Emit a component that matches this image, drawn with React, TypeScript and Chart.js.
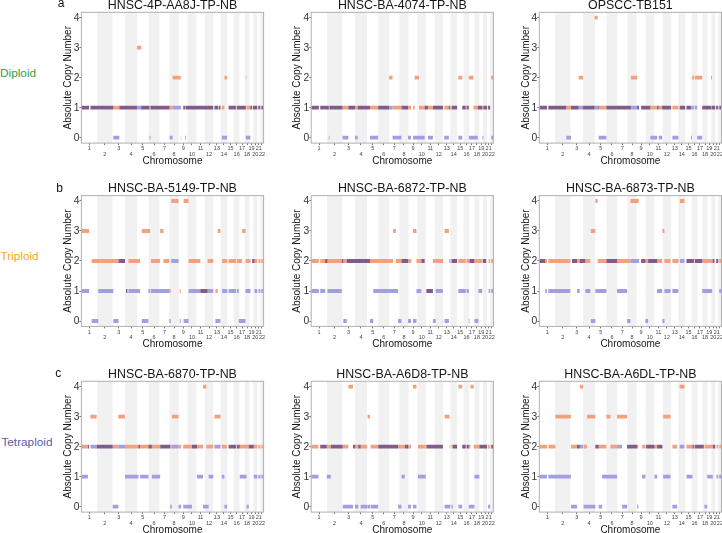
import React, { useEffect, useRef } from "react";
import { Chart, registerables } from "chart.js";

Chart.register(...registerables);

const FONT = "'Liberation Sans', Arial, Helvetica, sans-serif";

// ---------------- data ----------------
const CHROMOSOMES = ["1","2","3","4","5","6","7","8","9","10","11","12","13","14","15","16","17","18","19","20","21","22"];
const CHROM_LENGTHS_MB = [249.25, 243.2, 198.02, 191.15, 180.92, 171.12, 159.14, 146.36, 141.21, 135.53, 135.01, 133.85, 115.17, 107.35, 102.53, 90.35, 81.2, 78.08, 59.13, 63.03, 48.13, 51.3];
// genome regions without data (centromeres / acrocentric p-arms), Mb
const NO_DATA_MB: [number, number][] = [[121, 143], [1578, 1610], [2444, 2457], [2085, 2104], [2200, 2219], [2307, 2327], [2782, 2797], [2830, 2846]];
const COPY_TICKS = [0, 1, 2, 3, 4];
const PANEL_TITLES = [
  "HNSC-4P-AA8J-TP-NB", "HNSC-BA-4074-TP-NB", "OPSCC-TB151",
  "HNSC-BA-5149-TP-NB", "HNSC-BA-6872-TP-NB", "HNSC-BA-6873-TP-NB",
  "HNSC-BA-6870-TP-NB", "HNSC-BA-A6D8-TP-NB", "HNSC-BA-A6DL-TP-NB",
];
const ROW_LABELS = ["Diploid", "Triploid", "Tetraploid"];
const PANEL_LETTERS = ["a", "b", "c"];

// segments: [start Mb, end Mb, major copy number, minor copy number]
type Seg = [number, number, number, number];

const SEG_AA8J: Seg[] = [
  [0, 505, 1, 1], [505, 600, 1, 0], [600, 878, 1, 1], [878, 945, 3, 1], [945, 1075, 1, 1],
  [1075, 1092, 1, 0], [1092, 1395, 1, 1], [1395, 1442, 1, 0], [1442, 1572, 2, 1], [1572, 1580, 1, 0],
  [1580, 1638, 1, 1], [1638, 1652, 1, 0], [1652, 2165, 1, 1], [2165, 2175, 1, 0], [2175, 2222, 1, 1],
  [2222, 2262, 1, 0], [2262, 2305, 2, 0], [2305, 2322, 1, 0], [2322, 2600, 1, 1], [2600, 2610, 2, 0],
  [2610, 2672, 1, 0], [2672, 2700, 1, 1], [2700, 2712, 2, 1], [2712, 2881, 1, 1],
];
const SEG_4074: Seg[] = [
  [0, 278, 1, 1], [278, 290, 1, 0], [290, 496, 1, 1], [496, 587, 1, 0], [587, 693, 1, 1], [693, 735, 1, 0],
  [735, 929, 1, 1], [929, 1059, 1, 0], [1059, 1232, 1, 1], [1232, 1286, 2, 1], [1286, 1428, 1, 0],
  [1428, 1531, 1, 1], [1531, 1637, 1, 0], [1637, 1705, 2, 0], [1705, 1794, 1, 0], [1794, 1846, 1, 1],
  [1846, 1925, 1, 0], [1925, 2093, 1, 1], [2093, 2177, 1, 0], [2177, 2318, 1, 1], [2318, 2388, 2, 0],
  [2388, 2492, 1, 1], [2492, 2566, 2, 0], [2566, 2633, 1, 0], [2633, 2707, 1, 1], [2707, 2723, 1, 0],
  [2723, 2841, 1, 1], [2841, 2881, 2, 0],
];
const SEG_TB151: Seg[] = [
  [0, 427, 1, 1], [427, 502, 1, 0], [502, 622, 1, 1], [622, 692, 2, 1], [692, 875, 1, 1], [875, 923, 4, 1],
  [923, 939, 1, 1], [939, 1061, 1, 0], [1061, 1448, 1, 1], [1448, 1547, 2, 1], [1547, 1757, 1, 1],
  [1757, 1863, 1, 0], [1863, 1889, 1, 1], [1889, 1942, 1, 0], [1942, 2101, 1, 1], [2101, 2205, 1, 0],
  [2205, 2398, 1, 1], [2398, 2414, 1, 0], [2414, 2496, 2, 1], [2496, 2576, 2, 0], [2576, 2715, 1, 1],
  [2715, 2731, 2, 1], [2731, 2881, 1, 1],
];
const SEG_5149: Seg[] = [
  [0, 135, 3, 1], [162, 267, 2, 0], [267, 505, 2, 1], [505, 587, 2, 0], [587, 690, 2, 2], [706, 727, 1, 1],
  [743, 928, 2, 1], [955, 1060, 3, 0], [1060, 1087, 3, 1], [1098, 1246, 2, 1], [1246, 1298, 3, 1],
  [1298, 1389, 2, 1], [1389, 1412, 1, 0], [1420, 1536, 4, 2], [1555, 1571, 1, 0], [1616, 1695, 4, 0],
  [1695, 1881, 2, 1], [1881, 1996, 1, 1], [1996, 2092, 2, 1], [2119, 2155, 1, 0], [2155, 2198, 3, 0],
  [2225, 2488, 2, 1], [2488, 2542, 2, 0], [2542, 2595, 3, 0], [2595, 2674, 2, 1], [2701, 2738, 2, 2],
  [2738, 2780, 2, 1], [2801, 2881, 2, 1],
];
const SEG_6872: Seg[] = [
  [0, 220, 2, 1], [220, 257, 2, 2], [257, 483, 2, 1], [483, 508, 2, 2], [508, 562, 2, 0], [562, 929, 2, 2],
  [929, 981, 2, 0], [981, 1295, 2, 1], [1295, 1338, 3, 1], [1338, 1374, 2, 1], [1374, 1428, 2, 0],
  [1428, 1532, 2, 2], [1532, 1601, 2, 0], [1601, 1664, 3, 0], [1664, 1742, 2, 1], [1742, 1794, 2, 2],
  [1821, 1925, 1, 1], [1925, 1968, 2, 0], [1968, 2082, 2, 1], [2082, 2109, 2, 0], [2109, 2177, 3, 0],
  [2188, 2318, 2, 2], [2318, 2492, 2, 1], [2492, 2503, 2, 0], [2503, 2581, 2, 2], [2581, 2644, 2, 0],
  [2644, 2703, 2, 1], [2712, 2766, 2, 2], [2781, 2806, 2, 2], [2806, 2881, 2, 1],
];
const SEG_6873: Seg[] = [
  [0, 95, 2, 2], [95, 491, 2, 1], [518, 597, 2, 2], [597, 638, 2, 1], [638, 728, 2, 2], [728, 807, 2, 1],
  [815, 886, 3, 0], [886, 923, 4, 1], [923, 1061, 2, 1], [1061, 1230, 2, 2], [1230, 1388, 2, 1],
  [1388, 1441, 2, 0], [1441, 1572, 4, 2], [1572, 1678, 2, 2], [1678, 1721, 2, 0], [1721, 1863, 2, 2],
  [1863, 1942, 2, 1], [1947, 1979, 3, 0], [1979, 2074, 2, 1], [2101, 2205, 2, 1], [2221, 2295, 4, 2],
  [2327, 2576, 2, 2], [2576, 2734, 2, 1], [2739, 2770, 2, 2], [2786, 2834, 2, 2], [2838, 2881, 2, 1],
];
const SEG_6870: Seg[] = [
  [0, 103, 2, 1], [103, 135, 2, 2], [135, 241, 3, 2], [241, 495, 2, 2], [495, 584, 2, 0], [584, 690, 3, 2],
  [690, 901, 2, 1], [901, 928, 2, 2], [928, 1060, 2, 1], [1060, 1114, 2, 2], [1114, 1246, 2, 1],
  [1246, 1404, 2, 2], [1404, 1431, 2, 0], [1431, 1536, 3, 2], [1536, 1749, 2, 0], [1749, 1828, 2, 2],
  [1828, 1923, 2, 1], [1923, 1976, 4, 0], [1976, 2012, 2, 0], [2012, 2087, 2, 1], [2087, 2209, 3, 2],
  [2209, 2261, 2, 1], [2261, 2304, 2, 0], [2304, 2504, 2, 2], [2504, 2611, 2, 1], [2611, 2647, 2, 0],
  [2647, 2726, 2, 2], [2726, 2881, 2, 1],
];
const SEG_A6D8: Seg[] = [
  [0, 115, 2, 1], [115, 247, 2, 2], [247, 310, 2, 1], [310, 499, 2, 2], [499, 587, 2, 0], [587, 661, 4, 0],
  [661, 693, 2, 2], [693, 745, 2, 0], [745, 782, 2, 2], [782, 886, 2, 0], [892, 929, 3, 0], [940, 1059, 2, 0],
  [1059, 1374, 2, 2], [1374, 1428, 2, 0], [1428, 1480, 2, 1], [1480, 1532, 2, 2], [1532, 1601, 2, 0],
  [1601, 1664, 4, 0], [1689, 1810, 2, 1], [1821, 2082, 2, 2], [2082, 2109, 4, 0], [2109, 2188, 3, 0],
  [2188, 2240, 2, 0], [2240, 2318, 2, 2], [2318, 2388, 4, 0], [2388, 2492, 2, 2], [2492, 2518, 2, 0],
  [2518, 2570, 4, 0], [2570, 2581, 2, 0], [2581, 2660, 2, 1], [2660, 2791, 2, 2], [2791, 2844, 2, 0],
  [2844, 2881, 2, 2],
];
const SEG_A6DL: Seg[] = [
  [0, 253, 2, 1], [253, 499, 3, 1], [502, 597, 2, 0], [597, 641, 2, 2], [641, 692, 4, 2], [701, 755, 2, 0],
  [755, 886, 3, 0], [886, 939, 2, 2], [939, 993, 2, 0], [993, 1061, 2, 1], [1061, 1124, 3, 1],
  [1124, 1230, 2, 1], [1230, 1309, 3, 2], [1309, 1388, 3, 0], [1388, 1547, 2, 2], [1547, 1567, 2, 0],
  [1626, 1678, 2, 1], [1689, 1821, 2, 2], [1821, 1863, 2, 1], [1863, 1947, 2, 2], [1958, 2074, 3, 1],
  [2101, 2180, 2, 0], [2205, 2295, 4, 2], [2327, 2422, 2, 1], [2422, 2601, 2, 2], [2612, 2655, 2, 0],
  [2655, 2743, 2, 1], [2743, 2802, 2, 2], [2802, 2881, 2, 1],
];
const PANEL_SEGMENTS = [SEG_AA8J, SEG_4074, SEG_TB151, SEG_5149, SEG_6872, SEG_6873, SEG_6870, SEG_A6D8, SEG_A6DL];

// ---------------- styles / layout ----------------
const ORANGE = "#F3A07C";
const BLUE = "#A29EE4";
const PURPLE = "#7F5C89";
const BAND = "#F1F1F1";
const FRAME = "#B0B0B0";
const ROW_COLORS = ["#2EA04A", "#F2A71E", "#5A5DA8"];

const PLOT_LEFT = [81.4, 311.2, 539.3];
const PLOT_TOP = [12.3, 195.6, 381.3];
const PLOT_W = 182.2;
const PLOT_H = 130.8;
const Y_AXIS_W = 20;
const X_AXIS_H = 24;
const TITLE_SIZE = 12.4;
const TITLE_GAP = 0.75;
const TITLE_H = TITLE_SIZE + TITLE_GAP;
const RIGHT_ROOM = 5;

// ---------------- derived ----------------
const CHROM_STARTS: number[] = [];
CHROM_LENGTHS_MB.forEach((len, i) => {
  CHROM_STARTS.push(i === 0 ? 0 : CHROM_STARTS[i - 1] + CHROM_LENGTHS_MB[i - 1]);
});
const GENOME_END = CHROM_STARTS[CHROM_STARTS.length - 1] + CHROM_LENGTHS_MB[CHROM_LENGTHS_MB.length - 1];
const CHROM_MIDS = CHROM_STARTS.map((s, i) => s + CHROM_LENGTHS_MB[i] / 2);

function cutGaps(a: number, b: number): [number, number][] {
  let parts: [number, number][] = [[a, b]];
  for (const [g0, g1] of NO_DATA_MB) {
    const next: [number, number][] = [];
    for (const [p0, p1] of parts) {
      if (g1 <= p0 || g0 >= p1) { next.push([p0, p1]); continue; }
      if (g0 > p0) next.push([p0, g0]);
      if (g1 < p1) next.push([g1, p1]);
    }
    parts = next;
  }
  return parts;
}

function toLine(segs: Seg[], kind: "both" | "major" | "minor") {
  const pts: { x: number; y: number | null }[] = [];
  const sorted = [...segs].sort((p, q) => p[0] - q[0]);
  for (const [a, b, maj, min] of sorted) {
    let y: number | null = null;
    if (kind === "both" && maj === min) y = maj;
    if (kind === "major" && maj !== min) y = maj;
    if (kind === "minor" && maj !== min) y = min;
    if (y === null) continue;
    for (const [p0, p1] of cutGaps(a, b)) {
      pts.push({ x: p0, y }, { x: p1, y }, { x: p1, y: null });
    }
  }
  return pts;
}

const bandsPlugin = {
  id: "chromBands",
  beforeDatasetsDraw(chart: any) {
    const { ctx, chartArea, scales } = chart;
    const x = scales.x;
    ctx.save();
    ctx.fillStyle = BAND;
    for (let i = 1; i < CHROM_STARTS.length; i += 2) {
      const x0 = x.getPixelForValue(CHROM_STARTS[i]);
      const x1 = x.getPixelForValue(CHROM_STARTS[i] + CHROM_LENGTHS_MB[i]);
      ctx.fillRect(x0, chartArea.top, x1 - x0, chartArea.bottom - chartArea.top);
    }
    ctx.restore();
  },
  afterDatasetsDraw(chart: any) {
    const { ctx, chartArea } = chart;
    ctx.save();
    ctx.strokeStyle = FRAME;
    ctx.lineWidth = 1;
    ctx.strokeRect(chartArea.left, chartArea.top, chartArea.right - chartArea.left, chartArea.bottom - chartArea.top);
    ctx.restore();
  },
};

function geometry(row: number, col: number) {
  const x0 = PLOT_LEFT[col] - Y_AXIS_W;
  const left = Math.floor(x0);
  const padL = x0 - left;
  const width = Math.ceil(padL + Y_AXIS_W + PLOT_W + RIGHT_ROOM);
  const padR = width - (padL + Y_AXIS_W + PLOT_W);
  const y0 = PLOT_TOP[row] - TITLE_H;
  const top = Math.floor(y0);
  const padT = y0 - top;
  const height = Math.ceil(padT + TITLE_H + PLOT_H + X_AXIS_H + 1);
  const padB = height - (padT + TITLE_H + PLOT_H + X_AXIS_H);
  return { left, top, width, height, padding: { left: padL, right: padR, top: padT, bottom: padB } };
}

function lineDataset(data: any[], color: string) {
  return {
    data,
    borderColor: color,
    backgroundColor: color,
    borderWidth: 3.8,
    borderCapStyle: "butt" as const,
    pointRadius: 0,
    pointHoverRadius: 0,
    tension: 0,
    spanGaps: false,
    fill: false,
  };
}

function Panel({ idx }: { idx: number }) {
  const ref = useRef<HTMLCanvasElement | null>(null);
  const row = Math.floor(idx / 3);
  const col = idx % 3;
  const g = geometry(row, col);

  useEffect(() => {
    if (!ref.current) return;
    const segs = PANEL_SEGMENTS[idx];
    const chart = new Chart(ref.current, {
      type: "line",
      data: {
        datasets: [
          lineDataset(toLine(segs, "both"), PURPLE),
          lineDataset(toLine(segs, "minor"), BLUE),
          lineDataset(toLine(segs, "major"), ORANGE),
        ],
      },
      options: {
        animation: false,
        responsive: false,
        maintainAspectRatio: false,
        devicePixelRatio: 1,
        events: [],
        layout: { padding: g.padding },
        plugins: {
          legend: { display: false },
          tooltip: { enabled: false },
          title: {
            display: true,
            text: PANEL_TITLES[idx],
            fullSize: false,
            color: "#151515",
            font: { family: FONT, size: TITLE_SIZE, weight: "normal", lineHeight: 1 },
            padding: { top: 0, bottom: TITLE_GAP },
          },
        },
        scales: {
          x: {
            type: "linear",
            min: 0,
            max: GENOME_END,
            afterBuildTicks: (axis: any) => { axis.ticks = CHROM_MIDS.map((v) => ({ value: v })); },
            afterFit: (axis: any) => { axis.height = X_AXIS_H; },
            ticks: {
              autoSkip: false,
              maxRotation: 0,
              minRotation: 0,
              padding: 1,
              color: "#444",
              font: { family: FONT, size: 5.5, lineHeight: 1 },
              callback: (_v: any, i: number) => (i % 2 === 0 ? CHROMOSOMES[i] : ["", CHROMOSOMES[i]]),
            },
            grid: { drawOnChartArea: false, tickLength: 2, color: "#777" },
            border: { display: false },
            title: {
              display: true,
              text: "Chromosome",
              color: "#151515",
              font: { family: FONT, size: 10 },
              padding: { top: 0, bottom: 0 },
            },
          },
          y: {
            type: "linear",
            min: -0.18,
            max: 4.18,
            afterBuildTicks: (axis: any) => { axis.ticks = COPY_TICKS.map((v) => ({ value: v })); },
            afterFit: (axis: any) => { axis.width = Y_AXIS_W; },
            ticks: {
              autoSkip: false,
              padding: 0,
              color: "#333",
              font: { family: FONT, size: 10.3 },
              callback: (v: any) => String(v),
            },
            grid: { drawOnChartArea: false, tickLength: 2, color: "#777" },
            border: { display: false },
            title: {
              display: true,
              text: "Absolute Copy Number",
              color: "#151515",
              font: { family: FONT, size: 10 },
              padding: { top: 0.5, bottom: 0 },
            },
          },
        },
      } as any,
      plugins: [bandsPlugin],
    });
    return () => chart.destroy();
  }, [idx]);

  return (
    <canvas
      ref={ref}
      width={g.width}
      height={g.height}
      style={{ position: "absolute", left: g.left, top: g.top, width: g.width, height: g.height }}
    />
  );
}

const LABEL_POS = [
  { left: 0, top: 67.5 },
  { left: 0.4, top: 250.8 },
  { left: 1.4, top: 436.8 },
];
const LETTER_POS = [
  { left: 57.8, top: -2.9 },
  { left: 56.2, top: 181.5 },
  { left: 55.2, top: 366.5 },
];

export default function App() {
  return (
    <div
      style={{
        position: "absolute",
        left: 0,
        top: 0,
        width: 722,
        height: 533,
        overflow: "hidden",
        background: "#ffffff",
        fontFamily: FONT,
      }}
    >
      {PANEL_TITLES.map((_, i) => (
        <Panel key={i} idx={i} />
      ))}
      {ROW_LABELS.map((label, r) => (
        <div
          key={label}
          style={{
            position: "absolute",
            left: LABEL_POS[r].left,
            top: LABEL_POS[r].top,
            fontSize: 11.8,
            lineHeight: 1,
            whiteSpace: "nowrap",
            color: ROW_COLORS[r],
          }}
        >
          {label}
        </div>
      ))}
      {PANEL_LETTERS.map((letter, r) => (
        <div
          key={letter}
          style={{
            position: "absolute",
            left: LETTER_POS[r].left,
            top: LETTER_POS[r].top,
            fontSize: 12,
            lineHeight: 1,
            color: "#111",
          }}
        >
          {letter}
        </div>
      ))}
    </div>
  );
}
